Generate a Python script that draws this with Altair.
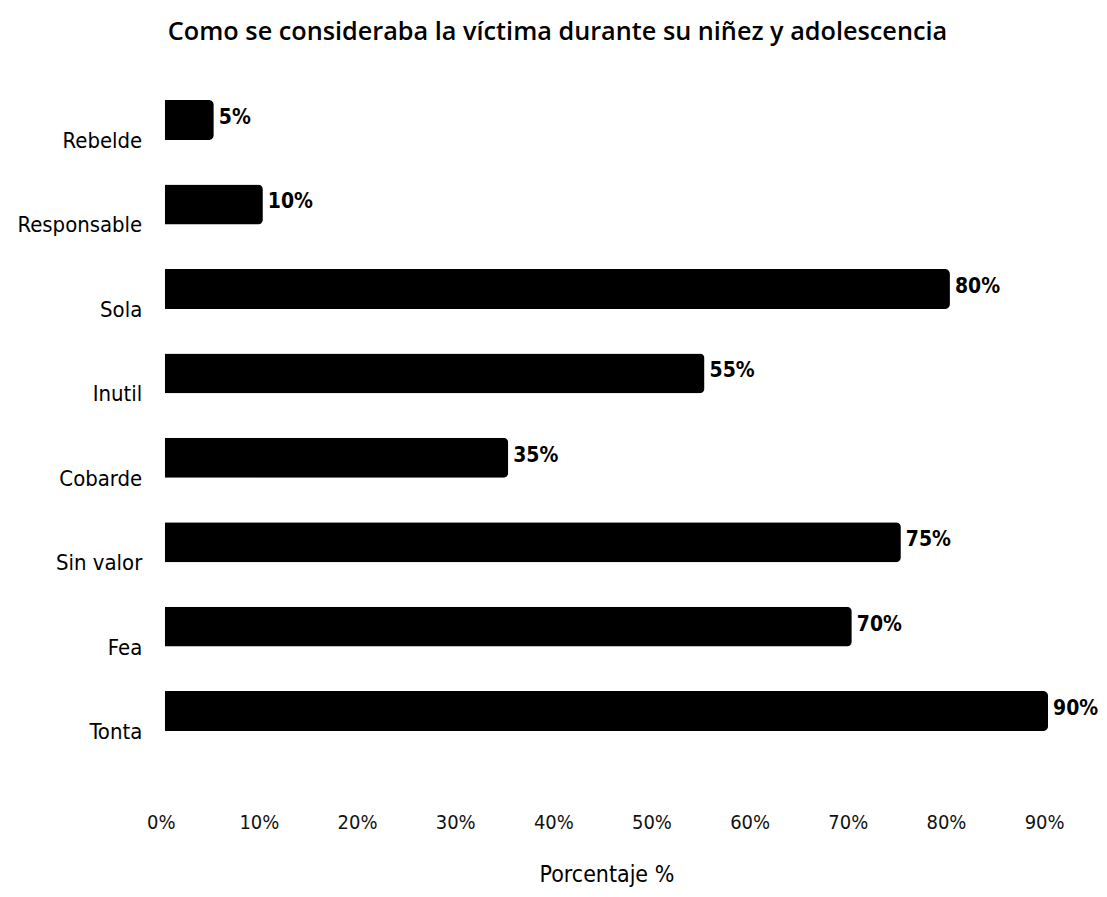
import altair as alt
import pandas as pd

categories = ["Rebelde", "Responsable", "Sola", "Inutil", "Cobarde", "Sin valor", "Fea", "Tonta"]
values = [5, 10, 80, 55, 35, 75, 70, 90]
ticks = [0, 10, 20, 30, 40, 50, 60, 70, 80, 90]

df = pd.DataFrame({"cat": categories, "val": values})
df["lbl"] = df["val"].astype(str) + "%"

FONT = "DejaVu Sans Condensed, Liberation Sans Narrow, Open Sans"

y = alt.Y("cat:N", sort=categories, title=None,
          scale=alt.Scale(paddingInner=0.527, paddingOuter=0.1),
          axis=alt.Axis(domain=False, ticks=False, labelPadding=23, labelFontSize=22,
                        labelColor="black", labelFont=FONT, labelOffset=21))
x = alt.X("val:Q", title="Porcentaje %",
          scale=alt.Scale(domain=[0, 90], nice=False),
          axis=alt.Axis(values=ticks, labelExpr="datum.value + '%'", grid=False, domain=False,
                        ticks=False, labelPadding=73, labelFontSize=20, labelColor="#111",
                        labelFont=FONT, labelFlush=False, labelOffset=-4,
                        titleFont=FONT, titleFontSize=23,
                        titleFontWeight="normal", titleColor="black", titlePadding=31))

bars = alt.Chart(df).mark_bar(color="black", cornerRadiusEnd=5).encode(x=x, y=y)
text = alt.Chart(df).mark_text(align="left", dx=5, dy=-2, fontSize=21, font=FONT,
                               fontWeight="bold", color="black").encode(
    x=alt.X("val:Q"), y=alt.Y("cat:N", sort=categories), text="lbl:N")

chart = (bars + text).properties(
    width=885, height=649,
    padding={"left": 8, "top": 11, "right": 0, "bottom": 0},
    title=alt.TitleParams("Como se consideraba la víctima durante su niñez y adolescencia",
                          font="Open Sans", fontSize=25.3, fontWeight=600, color="black",
                          anchor="middle", frame="bounds", offset=46),
).configure_view(stroke=None)

chart.save("out.html", embed_options={"renderer": "svg", "actions": False})
